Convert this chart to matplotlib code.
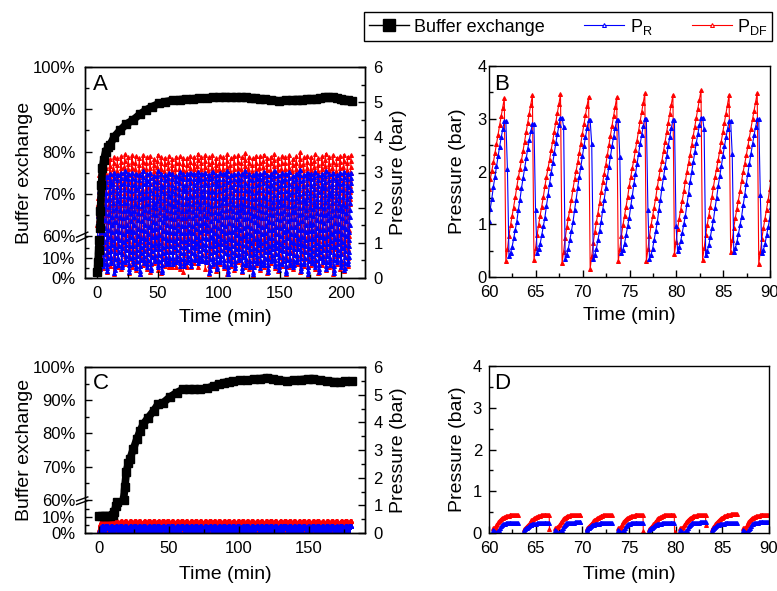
import numpy as np
import matplotlib
matplotlib.use("Agg")
import matplotlib.pyplot as plt
from matplotlib.lines import Line2D
from matplotlib.ticker import MultipleLocator, FixedLocator

plt.rcParams['font.family'] = 'Liberation Sans'
plt.rcParams['mathtext.fontset'] = 'custom'
plt.rcParams['mathtext.rm'] = 'Liberation Sans'
plt.rcParams['mathtext.it'] = 'Liberation Sans:italic'
plt.rcParams['axes.linewidth'] = 1.0

nan = np.nan

# ---------------- run 1 (panels A and B) ----------------
# buffer exchange (%)
be1_t = [0, 0.7, 1.3, 1.7, 2.3, 2.7, 3.5, 4.3, 5.4, 7, 9, 10.6, 14, 18.7, 24, 29.6, 35, 40.5,
         45, 51, 56, 62, 68, 73, 79, 84, 90, 95, 100, 105, 110, 114, 118, 122, 126, 130, 134,
         138, 143, 149, 155, 160, 164, 168, 172, 176, 180, 183, 187, 190, 194, 197, 200, 203,
         206, 209]
be1_v = [3, 8, 14, 19, 62, 66, 72, 76, 78, 80, 81, 81.6, 83.5, 85, 86.5, 87.5, 88.8, 89.9,
         90.6, 91.4, 91.8, 92.1, 92.3, 92.4, 92.5, 92.6, 92.7, 92.8, 92.9, 93.0, 92.9, 92.9,
         92.8, 92.8, 92.7, 92.6, 92.5, 92.4, 92.2, 92.0, 92.1, 92.2, 92.3, 92.3, 92.4, 92.4,
         92.5, 92.7, 92.8, 92.9, 92.8, 92.6, 92.4, 92.3, 92.2, 92.0]

df_cycle = [0.33, 0.55, 0.80, 1.00, 1.17, 1.33, 1.52, 1.72, 1.90, 2.06, 2.22, 2.40, 2.57,
            2.75, 2.93, 3.10, 3.27, 3.45]
r_cycle = [0.42, 0.49, 0.60, 0.76, 0.92, 1.08, 1.30, 1.49, 1.71, 1.90, 2.09, 2.28, 2.46,
           2.63, 2.79, 2.93]
cycle0 = -1.2      # min, first P_DF minimum
cycle_len = 3.0    # min
dt1 = 1 / 6        # min
t_end1 = 208.7

# per-cycle extremes (bar)
pdf_peak = [2.92, 3.05, 3.30, 3.38, 3.44, 3.40, 3.47, 3.52, 3.43, 3.49,
            3.46, 3.41, 3.50, 3.44, 3.48, 3.39, 3.51, 3.45, 3.42, 3.47,
            3.39, 3.45, 3.46, 3.42, 3.41, 3.48, 3.45, 3.54, 3.45, 3.49,
            3.43, 3.50, 3.40, 3.47, 3.44, 3.52, 3.41, 3.46, 3.49, 3.43,
            3.55, 3.44, 3.40, 3.48, 3.46, 3.51, 3.42, 3.45, 3.53, 3.41,
            3.47, 3.44, 3.50, 3.39, 3.46, 3.57, 3.43, 3.48, 3.45, 3.52,
            3.40, 3.46, 3.54, 3.44, 3.49, 3.42, 3.47, 3.51, 3.45, 3.50]
pdf_low = [0.05, 0.20, 0.28, 0.18, 0.35, 0.12, 0.30, 0.25, 0.40, 0.15,
           0.32, 0.22, 0.10, 0.36, 0.27, 0.18, 0.42, 0.24, 0.14, 0.33,
           0.30, 0.31, 0.32, 0.26, 0.16, 0.30, 0.30, 0.44, 0.32, 0.48,
           0.25, 0.12, 0.35, 0.20, 0.40, 0.28, 0.10, 0.33, 0.22, 0.45,
           0.17, 0.30, 0.26, 0.08, 0.38, 0.24, 0.32, 0.14, 0.42, 0.28,
           0.20, 0.35, 0.11, 0.30, 0.25, 0.40, 0.18, 0.33, 0.09, 0.36,
           0.27, 0.15, 0.38, 0.22, 0.31, 0.12, 0.40, 0.26, 0.19, 0.34]
pr_peak = [2.62, 2.75, 2.88, 2.95, 2.98, 2.93, 3.00, 3.04, 2.96, 2.99,
           2.97, 2.92, 3.03, 2.96, 3.00, 2.91, 3.05, 2.97, 2.94, 2.99,
           2.95, 2.90, 3.02, 2.97, 2.97, 3.00, 2.97, 3.02, 2.95, 2.99,
           2.94, 3.01, 2.92, 2.98, 2.96, 3.04, 2.93, 2.97, 3.00, 2.95,
           3.05, 2.96, 2.92, 2.99, 2.97, 3.02, 2.94, 2.96, 3.03, 2.93,
           2.98, 2.95, 3.01, 2.91, 2.97, 3.06, 2.94, 2.99, 2.96, 3.02,
           2.92, 2.97, 3.04, 2.95, 3.00, 2.93, 2.98, 3.01, 2.96, 3.00]
pr_low = [0.10, 0.25, 0.35, 0.20, 0.42, 0.15, 0.38, 0.30, 0.45, 0.18,
          0.40, 0.28, 0.12, 0.44, 0.32, 0.22, 0.48, 0.30, 0.16, 0.40,
          0.40, 0.39, 0.45, 0.35, 0.35, 0.45, 0.35, 0.50, 0.42, 0.48,
          0.45, 0.15, 0.40, 0.25, 0.46, 0.33, 0.12, 0.40, 0.28, 0.50,
          0.20, 0.36, 0.30, 0.10, 0.44, 0.29, 0.38, 0.17, 0.47, 0.33,
          0.24, 0.41, 0.13, 0.36, 0.30, 0.46, 0.21, 0.39, 0.11, 0.43,
          0.32, 0.18, 0.45, 0.26, 0.37, 0.14, 0.46, 0.31, 0.22, 0.40]
pr_mid = [1.80, 2.40, 1.10, 2.70, 1.60, 2.20, 0.90, 2.85, 1.90, 1.30,
          2.55, 1.05, 2.30, 2.75, 1.45, 2.10, 0.95, 2.60, 1.70, 2.35,
          2.05, 1.27, 2.85, 2.52, 2.28, 1.27, 0.97, 2.80, 2.33, 1.55,
          2.45, 1.15, 2.70, 1.85, 2.25, 0.90, 2.60, 1.40, 2.80, 2.00,
          1.20, 2.50, 1.75, 2.85, 1.05, 2.30, 1.60, 2.65, 0.95, 2.15,
          2.75, 1.35, 2.40, 1.90, 2.60, 1.10, 2.20, 2.85, 1.50, 2.05,
          0.90, 2.55, 1.80, 2.35, 1.25, 2.70, 2.00, 1.45, 2.60, 2.30]

# ---------------- run 2 (panels C and D) ----------------
be2_t = [0, 2, 4, 6, 8, 10, 11, 12, 13, 17.5, 18.5, 19.5, 21, 22, 24.5, 27, 29.3, 31.6, 35,
         39, 42.3, 46, 50.7, 55.5, 60, 64, 68, 72, 77, 82, 86, 89, 93, 96, 101, 106, 111,
         115, 120, 124, 128, 134, 139, 144, 149, 153, 158, 163, 168, 172, 176, 180.5]
be2_v = [11, 10.6, 10.5, 10.7, 11, 11.5, 13.5, 17, 20, 60, 64, 68.5, 71, 72.2, 75.3, 78.3,
         80.7, 82.8, 84.7, 86.8, 88.9, 89.3, 91, 92.3, 93.3, 93.4, 93.4, 93.3, 93.6, 94.3,
         94.8, 95.3, 95.6, 95.8, 96.0, 96.1, 96.3, 96.5, 96.8, 96.5, 96.1, 95.8, 96.0, 96.2,
         96.4, 96.5, 96.1, 95.8, 95.6, 95.5, 95.7, 95.8]

df_dip = [0.11, 0.12, 0.13, 0.15, 0.18, 0.22, 0.26, 0.29, 0.32, 0.34, 0.36, 0.37, 0.38, 0.39,
          0.40, 0.40, 0.41, 0.41, 0.42, 0.42, 0.42, 0.43, 0.43, 0.43, 0.43, 0.43, 0.43, 0.43]
r_dip = [0.07, 0.04, 0.02, 0.01, 0.01, 0.02, 0.04, 0.08, 0.12, 0.16, 0.19, 0.21, 0.22, 0.22,
         0.23, 0.23, 0.23, 0.24, 0.24, 0.24, 0.24, 0.25, 0.25, 0.25, 0.25, 0.25, 0.25, 0.25]
df_flat = [0.09, 0.11, 0.14, 0.17, 0.20, 0.22, 0.25, 0.28, 0.30, 0.32, 0.34, 0.35, 0.37, 0.38,
           0.39, 0.40, 0.41, 0.41, 0.42, 0.42, 0.42, 0.43, 0.43, 0.43, 0.43, 0.43, 0.43, 0.43]
r_flat = [0.08, 0.09, 0.11, 0.13, 0.15, 0.17, 0.18, 0.19, 0.20, 0.21, 0.21, 0.22, 0.22, 0.22,
          0.23, 0.23, 0.23, 0.23, 0.23, 0.24, 0.24, 0.24, 0.24, 0.24, 0.24, 0.24, 0.24, 0.24]
seg0 = 0.1
seg_len = 3.35
dt2 = 0.1

df_top = [0.42, 0.44, 0.43, 0.45, 0.42, 0.43, 0.44, 0.43, 0.45,
          0.42, 0.44, 0.43, 0.42, 0.44, 0.45, 0.43, 0.42, 0.44,
          0.43, 0.43, 0.44, 0.43, 0.43, 0.44, 0.43, 0.45, 0.43,
          0.44, 0.42, 0.43, 0.45, 0.43, 0.44, 0.42, 0.43, 0.44,
          0.45, 0.43, 0.42, 0.44, 0.43, 0.45, 0.42, 0.44, 0.43,
          0.43, 0.45, 0.42, 0.44, 0.43, 0.44, 0.42, 0.45, 0.43]
r_top = [0.24, 0.26, 0.25, 0.24, 0.27, 0.25, 0.24, 0.26, 0.25,
         0.26, 0.24, 0.25, 0.27, 0.24, 0.25, 0.26, 0.24, 0.25,
         0.25, 0.24, 0.26, 0.24, 0.25, 0.24, 0.26, 0.24, 0.27,
         0.24, 0.26, 0.25, 0.24, 0.27, 0.25, 0.24, 0.26, 0.25,
         0.26, 0.25, 0.24, 0.27, 0.25, 0.24, 0.26, 0.25, 0.24,
         0.25, 0.27, 0.24, 0.26, 0.25, 0.24, 0.26, 0.25, 0.27]
df_end = [nan, 0.08, nan, 0.15, nan, nan, 0.04, nan, 0.20,
          nan, 0.06, nan, nan, 0.12, nan, 0.03, nan, nan,
          nan, 0.10, nan, nan, 0.05, 0.03, 0.18, nan, nan,
          0.07, nan, nan, 0.14, nan, 0.04, nan, nan, 0.10,
          nan, 0.05, nan, 0.16, nan, nan, 0.02, nan, 0.09,
          nan, nan, 0.12, nan, 0.04, nan, nan, 0.15, nan]

BLUE = '#0000ff'
RED = '#ff0000'


def build_run1():
    dfs = np.array(df_cycle)
    rs = np.array(r_cycle)
    dfn = (dfs - dfs[0]) / (dfs[-1] - dfs[0])
    rn = (rs - rs[0]) / (rs[-1] - rs[0])
    td, pd_, tr, pr = [], [], [], []
    for k in range(len(pdf_peak)):
        T = cycle0 + cycle_len * k
        td.append(T + dt1 * np.arange(len(dfs)))
        pd_.append(pdf_low[k] + dfn * (pdf_peak[k] - pdf_low[k]))
        tr.append(T + dt1 * (np.arange(len(rs) + 2) + 2))
        pr.append(np.concatenate([pr_low[k] + rn * (pr_peak[k] - pr_low[k]),
                                  [pr_peak[k], pr_mid[k]]]))
    td, pd_, tr, pr = map(np.concatenate, (td, pd_, tr, pr))
    md = (td >= 0) & (td <= t_end1)
    mr = (tr >= 0) & (tr <= t_end1)
    return td[md], pd_[md], tr[mr], pr[mr]


def build_run2():
    td, pd_, tr, pr = [], [], [], []
    for k in range(len(df_top)):
        S = seg0 + seg_len * k
        dprof, rprof = (df_dip, r_dip) if k % 2 == 0 else (df_flat, r_flat)
        ts = S + dt2 * np.arange(len(dprof))
        red = np.array(dprof) * df_top[k] / dprof[-1]
        blue = np.array(rprof) * r_top[k] / rprof[-1]
        if not np.isnan(df_end[k]):
            ts_r = np.append(ts, ts[-1] + 0.03)
            red = np.append(red, df_end[k])
        else:
            ts_r = ts
        td += [ts_r, [nan]]
        pd_ += [red, [nan]]
        tr += [ts, [nan]]
        pr += [blue, [nan]]
    return tuple(np.concatenate(a) for a in (td, pd_, tr, pr))


# broken left axis: 0-20 % and 60-100 %
def fwd(y):
    y = np.asarray(y, dtype=float)
    return np.where(y < 20, y * 2, np.where(y < 60, 40 + (y - 20) * 0.05, 42 + (y - 60) * 4.225))


def inv(v):
    v = np.asarray(v, dtype=float)
    return np.where(v < 40, v / 2, np.where(v < 42, 20 + (v - 40) / 0.05, 60 + (v - 42) / 4.225))


def style(ax, ypad=6):
    ax.tick_params(which='both', direction='in', labelsize=12, width=1)
    ax.tick_params(which='major', length=5)
    ax.tick_params(which='minor', length=3)
    ax.tick_params(axis='x', pad=6)
    ax.tick_params(axis='y', pad=ypad)


def line_kw(color, face=None):
    return dict(color=color, lw=0.8, marker='^', ms=2.8, mfc=face or color, mec=color, mew=0.8)


def exchange_panel(rect, be_t, be_v, pres, xlim, xticks, letter):
    ax = fig.add_axes(rect)
    ax2 = ax.twinx()
    td, pd_, tr, pr = pres
    ax2.plot(td, pd_, **line_kw(RED))
    ax2.plot(tr, pr, **line_kw(BLUE))
    ax2.set_ylim(0, 6)
    ax2.yaxis.set_major_locator(MultipleLocator(1))
    ax2.yaxis.set_minor_locator(MultipleLocator(0.5))
    style(ax2)
    ax2.set_ylabel('Pressure (bar)', fontsize=14)
    ax2.yaxis.set_label_coords(1.09, 0.5)

    ax.set_zorder(ax2.get_zorder() + 1)
    ax.patch.set_visible(False)
    ax.set_yscale('function', functions=(fwd, inv))
    be_t = np.array(be_t)
    be_v = np.array(be_v, dtype=float)
    low = np.where(be_v <= 20, be_v, nan)
    high = np.where(be_v >= 60, be_v, nan)
    for part in (low, high):
        ax.plot(be_t, part, color='black', lw=5.5, marker='s', ms=5.5, solid_capstyle='butt')
    ax.set_ylim(0, 100)
    ax.set_xlim(*xlim)
    ax.set_yticks([0, 10, 60, 70, 80, 90, 100])
    ax.set_yticklabels(['0%', '10%', '60%', '70%', '80%', '90%', '100%'])
    ax.yaxis.set_minor_locator(FixedLocator([5, 15, 65, 75, 85, 95]))
    ax.set_xticks(xticks)
    ax.xaxis.set_minor_locator(MultipleLocator(25))
    style(ax, ypad=7)
    ax.tick_params(axis='y', which='both', right=False)
    ax.set_ylabel('Buffer exchange', fontsize=14)
    ax.yaxis.set_label_coords(-0.186, 0.5)
    ax.set_xlabel('Time (min)', fontsize=14)
    ax.text(0.027, 0.965, letter, transform=ax.transAxes, fontsize=16, va='top', ha='left')
    # break marks on the left spine
    yf = 41 / 211
    for dy in (0.011, -0.011):
        ax.plot([-0.03, 0.01], [yf + dy - 0.012, yf + dy + 0.012], transform=ax.transAxes,
                color='black', lw=1, clip_on=False, zorder=10)
    return ax, ax2


def pressure_panel(rect, pres, letter, ypad):
    ax = fig.add_axes(rect)
    td, pd_, tr, pr = pres
    ax.plot(td, pd_, **line_kw(RED))
    ax.plot(tr, pr, **line_kw(BLUE))
    ax.set_xlim(60, 90)
    ax.set_ylim(0, 4)
    ax.xaxis.set_major_locator(MultipleLocator(5))
    ax.xaxis.set_minor_locator(MultipleLocator(2.5))
    ax.yaxis.set_major_locator(MultipleLocator(1))
    ax.yaxis.set_minor_locator(MultipleLocator(0.5))
    style(ax, ypad=ypad)
    ax.set_ylabel('Pressure (bar)', fontsize=14)
    ax.yaxis.set_label_coords(-0.082, 0.5)
    ax.set_xlabel('Time (min)', fontsize=14)
    ax.text(0.02, 0.96, letter, transform=ax.transAxes, fontsize=16, va='top', ha='left')
    return ax


W, H = 777, 591
fig = plt.figure(figsize=(W / 100, H / 100), dpi=100)

run1 = build_run1()
run2 = build_run2()

axA, _ = exchange_panel([85 / W, 1 - 278 / H, 280 / W, 211 / H], be1_t, be1_v, run1,
                        (-10, 220), [0, 50, 100, 150, 200], 'A')
axA.xaxis.set_label_coords(0.5, -0.145)
axB = pressure_panel([489 / W, 1 - 277 / H, 281 / W, 211 / H], run1, 'B', 1.5)
axB.xaxis.set_label_coords(0.5, -0.14)
axC, _ = exchange_panel([85 / W, 1 - 533 / H, 280 / W, 166 / H], be2_t, be2_v, run2,
                        (-10, 190), [0, 50, 100, 150], 'C')
axC.xaxis.set_label_coords(0.5, -0.2)
axD = pressure_panel([489 / W, 1 - 533 / H, 280 / W, 167 / H], run2, 'D', 5)
axD.xaxis.set_label_coords(0.5, -0.2)

handles = [Line2D([], [], color='black', lw=1, marker='s', ms=8),
           Line2D([], [], **line_kw(BLUE, 'white')),
           Line2D([], [], **line_kw(RED, 'white'))]
labels = ['Buffer exchange', r'P$_\mathrm{R}$', r'P$_\mathrm{DF}$']
leg = fig.legend(handles, labels, loc='upper right', bbox_to_anchor=(772 / W, 1 - 12 / H),
                 ncol=3, frameon=True, fancybox=False, edgecolor='black', framealpha=1,
                 fontsize=13, handlelength=2.2, handletextpad=0.3, columnspacing=2.2,
                 borderpad=0.25, borderaxespad=0)
leg.get_frame().set_linewidth(1.0)

fig.savefig('out.png', dpi=100)
